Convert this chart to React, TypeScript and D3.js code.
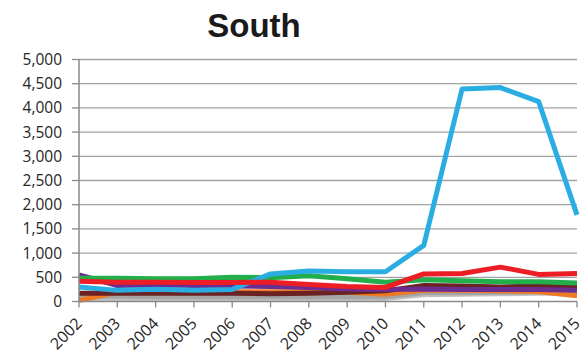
import React from "react";
import * as d3 from "d3";

const years = [2002, 2003, 2004, 2005, 2006, 2007, 2008, 2009, 2010, 2011, 2012, 2013, 2014, 2015];
const yTicks = [0, 500, 1000, 1500, 2000, 2500, 3000, 3500, 4000, 4500, 5000];

const lightGrey = [60, 60, 60, 60, 60, 60, 60, 60, 60, 140, 150, 160, 170, 170];
const grey = [110, 110, 100, 100, 100, 100, 100, 100, 100, 180, 180, 190, 200, 200];
const orange = [20, 190, 200, 200, 200, 200, 200, 190, 150, 230, 230, 220, 200, 120];
const maroon = [170, 170, 170, 170, 170, 160, 170, 190, 220, 330, 320, 300, 320, 290];
const purple = [550, 330, 340, 330, 320, 310, 290, 260, 250, 260, 250, 250, 250, 230];
const green = [480, 480, 470, 470, 500, 490, 530, 470, 400, 450, 430, 410, 410, 380];
const blue = [300, 230, 255, 230, 250, 570, 630, 615, 615, 1160, 4390, 4420, 4130, 1790];
const red = [420, 400, 400, 390, 390, 400, 350, 310, 290, 570, 580, 710, 560, 580];

const series = [
  { name: "lightGrey", values: lightGrey, color: "#C3C3C3" },
  { name: "grey", values: grey, color: "#A5A5A5" },
  { name: "orange", values: orange, color: "#EC7B23" },
  { name: "maroon", values: maroon, color: "#6A2222" },
  { name: "purple", values: purple, color: "#6B2D90" },
  { name: "green", values: green, color: "#21AE4B" },
  { name: "blue", values: blue, color: "#2AADE3" },
  { name: "red", values: red, color: "#EC1D25" },
];

const W = 588;
const H = 354;
const left = 79;
const right = 577;
const top = 59.5;
const bottom = 301.5;

export default function App() {
  const x = d3.scaleLinear().domain([years[0], years[years.length - 1]]).range([left, right]);
  const y = d3.scaleLinear().domain([0, 5000]).range([bottom, top]);
  const fmt = d3.format(",");
  const line = d3
    .line<number>()
    .x((_, i) => x(years[i]))
    .y((d) => y(d));

  const font = "'Open Sans', 'Noto Sans', sans-serif";

  return (
    <svg
      width={W}
      height={H}
      style={{ position: "absolute", left: 0, top: 0, background: "#fff" }}
    >
      <text
        x={254}
        y={36.5}
        textAnchor="middle"
        fontFamily="'Liberation Sans', Arial, sans-serif"
        fontWeight="bold"
        fontSize={33}
        fill="#1a1a1a"
      >
        South
      </text>

      {yTicks.map((t) => (
        <g key={t}>
          {t > 0 && (
            <line x1={left} x2={right} y1={y(t)} y2={y(t)} stroke="#A3A3A3" strokeWidth={1.3} />
          )}
          <line x1={left - 7} x2={left} y1={y(t)} y2={y(t)} stroke="#8A8A8A" strokeWidth={1.3} />
          <text
            x={62}
            y={y(t)}
            dy="0.36em"
            textAnchor="end"
            fontFamily={font}
            fontSize={15.5}
            fill="#262626"
          >
            {fmt(t)}
          </text>
        </g>
      ))}

      {series.map((s) => (
        <path
          key={s.name}
          d={line(s.values) || ""}
          fill="none"
          stroke={s.color}
          strokeWidth={5}
          strokeLinejoin="round"
        />
      ))}

      <line x1={left} x2={left} y1={top} y2={bottom} stroke="#8A8A8A" strokeWidth={1.5} />
      <line x1={left} x2={right} y1={bottom} y2={bottom} stroke="#8A8A8A" strokeWidth={1.5} />

      {years.map((yr) => (
        <g key={yr}>
          <line x1={x(yr)} x2={x(yr)} y1={bottom} y2={bottom + 6} stroke="#8A8A8A" strokeWidth={1.3} />
          <text
            transform={`translate(${x(yr) + 4},${bottom + 23}) rotate(-45)`}
            textAnchor="end"
            fontFamily={font}
            fontSize={16}
            fill="#262626"
          >
            {yr}
          </text>
        </g>
      ))}
    </svg>
  );
}
